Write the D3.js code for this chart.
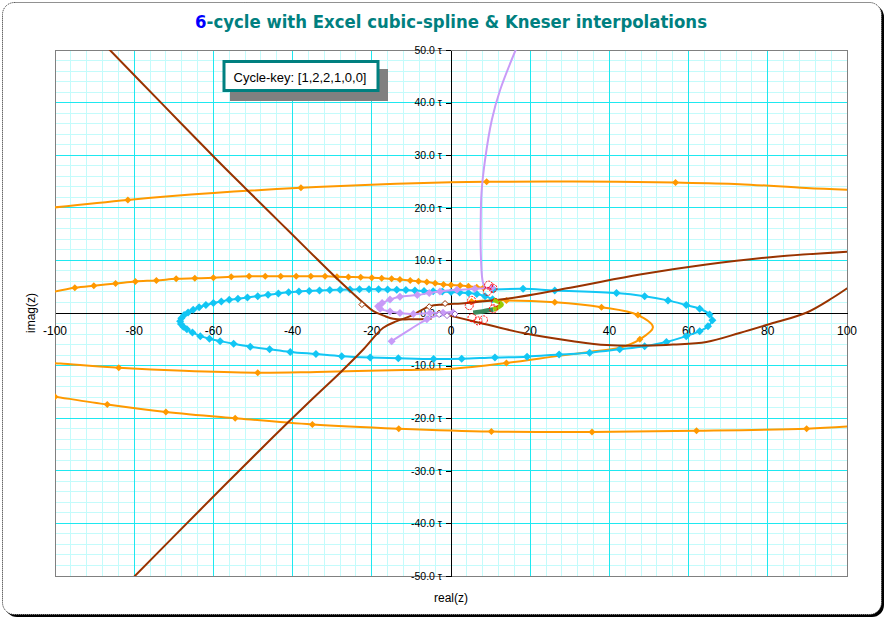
<!DOCTYPE html>
<html lang="en">
<head>
    <meta charset="UTF-8">
    <title>6-cycle with Excel cubic-spline & Kneser interpolations</title>
    <script src="https://d3js.org/d3.v7.min.js"></script>
    <style>
        body { margin: 0; background: #ffffff; }
        svg { display: block; }
        .tick-label { font-family: "Liberation Sans", Arial, sans-serif; fill: #000; }
    </style>
</head>
<body>
<div id="chart"></div>
<script>
    // ---- data (in chart units: real(z), imag(z)/τ) ----
    var xTicks = [-100, -80, -60, -40, -20, 0, 20, 40, 60, 80, 100];
    var yTicks = [-50, -40, -30, -20, -10, 0, 10, 20, 30, 40, 50];

    var orangeOuterTop = [[-101, 20.0], [-81.6, 21.5], [-60, 22.8], [-37.9, 23.8], [-17.1, 24.5], [0, 24.85],
        [9, 24.95], [30.8, 25.0], [56.7, 24.8], [72.9, 24.5], [89.7, 23.75], [101, 23.4]];
    var orangeOuterTopMarks = [[-81.6, 21.5], [-37.9, 23.8], [9, 24.95], [56.7, 24.8]];

    var orangeOuterBottom = [[-101, -15.8], [-100, -15.9], [-86.8, -17.4], [-72, -18.8], [-54.5, -20.0], [-35, -21.2],
        [-13.2, -22.0], [10.2, -22.55], [35.6, -22.6], [62, -22.4], [89.8, -22.0], [102, -21.5]];
    var orangeOuterBottomMarks = [[-100, -15.9], [-86.8, -17.4], [-72, -18.8], [-54.5, -20.0], [-35, -21.2],
        [-13.2, -22.0], [10.2, -22.55], [35.6, -22.6], [62, -22.4], [89.8, -22.0]];

    var orangeInnerTop = [[-101, 3.95], [-95, 4.8], [-90.2, 5.2], [-84.7, 5.6], [-79.7, 6.0], [-74.4, 6.2], [-69.4, 6.5],
        [-64.7, 6.6], [-60, 6.7], [-55.5, 6.9], [-51, 7.0], [-46.9, 7.0], [-43, 7.0], [-39.1, 7.0], [-35.4, 7.0],
        [-31.8, 7.0], [-28.8, 6.9], [-25.9, 6.85], [-22.8, 6.8], [-20, 6.7], [-17.5, 6.6], [-15, 6.5], [-12.9, 6.35],
        [-10.3, 6.2], [-8.2, 6.05], [-6.1, 5.9], [-4, 5.65], [-1.9, 5.4], [0, 5.3], [2.3, 5.25], [4.4, 5.1],
        [6.5, 4.9], [8.2, 4.8]];

    var orangeInnerLoop = [[5.2, 2.2], [14, 2.4], [26.2, 2.05], [38, 1.1], [47.2, -0.4], [51, -2.7], [47.7, -5.0],
        [42.6, -6.6], [35, -7.4], [26.7, -8.2], [14, -9.5], [0, -10.6], [-12, -10.85], [-33.9, -11.2],
        [-48.8, -11.35], [-67.5, -11.0], [-83.9, -10.4], [-98.6, -9.6], [-101, -9.5]];
    var orangeInnerLoopMarks = [[5.2, 2.2], [14, 2.4], [26.2, 2.05], [38, 1.1], [47.2, -0.4], [47.7, -5.0],
        [14, -9.5], [-48.8, -11.35], [-83.9, -10.4]];

    var cyanLoop = [[10.5, 2.6], [8.6, 3.2], [6.5, 3.6], [4.4, 3.8], [2.2, 3.9], [0, 4.0], [-2.2, 4.1], [-4.5, 4.15],
        [-6.8, 4.2], [-9.1, 4.3], [-11.4, 4.35], [-13.7, 4.4], [-16, 4.45], [-18.3, 4.5], [-20.7, 4.5], [-23.1, 4.5],
        [-25.5, 4.45], [-28, 4.42], [-30.6, 4.38], [-33.2, 4.3], [-35.8, 4.2], [-38.4, 4.1], [-41, 3.95],
        [-43.6, 3.7], [-46.2, 3.45], [-48.8, 3.2], [-51.4, 2.95], [-53.8, 2.7], [-56, 2.5], [-58, 2.2], [-60, 1.9],
        [-61.9, 1.5], [-63.6, 1.1], [-65.1, 0.6], [-66.4, 0.1], [-67.4, -0.4], [-68.1, -1.0], [-68.4, -1.55],
        [-68.2, -2.1], [-67.6, -2.6], [-66.7, -3.1], [-65.3, -3.7], [-63.3, -4.4], [-61, -4.9], [-58.3, -5.35],
        [-54.9, -5.85], [-50.7, -6.4], [-45.8, -6.9], [-40.6, -7.4], [-34.1, -7.8], [-27.6, -8.2], [-20.4, -8.45],
        [-13.3, -8.6], [-4.4, -8.75], [2.7, -8.7], [11.1, -8.45], [19.2, -8.3], [27.3, -7.9], [35, -7.55],
        [42.6, -6.9], [48.9, -6.3], [54.4, -5.5], [59.4, -4.4], [62.8, -3.45], [64.9, -2.5], [66, -1.4],
        [65.3, -0.3], [62.8, 0.8], [59.4, 1.5], [54.8, 2.4], [48.9, 3.2], [41.8, 3.8], [26.2, 4.3], [18.2, 4.6],
        [10.7, 4.45]];

    var brownUpper = [[-86.8, 50.5], [-73, 39.8], [-59.1, 29.1], [-51.5, 23.4], [-45.6, 19.0], [-40.6, 15.3],
        [-33.9, 10.3], [-27.2, 5.4], [-22.1, 1.9], [-19.6, 0.35], [-17, -0.5], [-14.6, -1.1], [-9.5, -1.2],
        [-4.9, -1.1]];
    var brownRising = [[-80.5, -50.5], [-63.3, -37.4], [-45.5, -24], [-35.1, -16.4], [-28, -11.35], [-22.1, -6.9],
        [-17.1, -2.8], [-13.7, -1.55], [-10.3, -0.6], [-5.3, 1.3], [-1.9, 1.6], [4, 1.9], [14, 2.7], [30.8, 4.9],
        [47.7, 7.3], [64.5, 9.2], [81.3, 10.65], [101, 11.7]];
    var brownLower = [[-3, 0], [5.6, -1.55], [18.2, -3.8], [30.8, -5.35], [39.3, -6.1], [49.4, -6.2], [56.1, -6.0],
        [64.5, -5.5], [72.9, -3.8], [81.3, -1.9], [89.7, 0.05], [96.4, 2.9], [101, 5.2]];
    var brownOpenMarks = [[-22.5, 1.6], [-5.5, 1.2], [-1.5, 1.8], [-3, 0]];

    var lavenderStem = [[16.6, 50.5], [12.4, 42.4], [10.3, 36.7], [8.6, 29.1], [7.7, 22.8], [7.5, 17], [7.5, 12.05],
        [8, 6.05], [8.6, 4.9], [10.3, 4.8]];
    var lavenderLoop = [[10.3, 4.8], [6, 4.6], [1.5, 4.4], [-2.8, 4.1], [-5.5, 3.8], [-8.5, 3.4], [-12.9, 3.1],
        [-15.4, 2.55], [-17.4, 1.9], [-18.4, 1.3], [-17.9, 0.8], [-15.4, 0.3], [-12.9, 0], [-9.5, -0.2],
        [-5.3, 0], [-2, 0.05], [0.5, 0.1]];
    var lavenderTail = [[-15, -5.35], [-10.3, -3.1], [-6.1, -1.2], [-1.9, -0.1], [0.6, 0.3]];
    var lavenderTailMarks = [[-15, -5.35], [-6.1, -1.2]];
    var lavenderOpenMarks = [[-3, -0.3], [-1, -0.5], [1, -0.2]];

    var greenDark = [[5.6, 0.05], [8, 0.3], [10.7, 0.65]];
    var greenLight = [[10.7, 0.65], [12.8, 1.6], [10.7, 2.55]];

    var redCycle = [[9.5, 5.3], [10.6, 4.7], [9.2, 4.1], [5.2, 2.4], [4.6, 1.4], [5.3, -0.9], [6.8, -1.5],
        [8.2, -1.3], [10.7, 0.8], [11.2, 2.0]];

    var cycleKey = "Cycle-key: [1,2,2,1,0,0]";

    // ---- layout ----
    var W = 886, H = 620;
    var plot = { left: 55, right: 847, top: 50, bottom: 576 };

    var svg = d3.select("#chart").append("svg")
        .attr("width", W)
        .attr("height", H);

    // outer frame with shadow
    svg.append("rect")
        .attr("x", 5).attr("y", 5)
        .attr("width", 879).attr("height", 612)
        .attr("rx", 12).attr("ry", 12)
        .attr("fill", "#000");
    svg.append("rect")
        .attr("x", 2.5).attr("y", 2.5)
        .attr("width", 879).attr("height", 612)
        .attr("rx", 12).attr("ry", 12)
        .attr("fill", "#fff")
        .attr("stroke", "#222")
        .attr("stroke-width", 1)
        .attr("stroke-dasharray", "1,1");

    var xScale = d3.scaleLinear().domain([-100, 100]).range([plot.left, plot.right]);
    var yScale = d3.scaleLinear().domain([-50, 50]).range([plot.bottom, plot.top]);

    // minor grid
    var xMinor = d3.range(-100, 101, 4);
    var yMinor = d3.range(-50, 51, 2);
    var grid = svg.append("g").attr("shape-rendering", "crispEdges");
    grid.selectAll(".vminor").data(xMinor).enter().append("line")
        .attr("x1", d => xScale(d)).attr("x2", d => xScale(d))
        .attr("y1", plot.top).attr("y2", plot.bottom)
        .attr("stroke", "#c4fbfb");
    grid.selectAll(".hminor").data(yMinor).enter().append("line")
        .attr("y1", d => yScale(d)).attr("y2", d => yScale(d))
        .attr("x1", plot.left).attr("x2", plot.right)
        .attr("stroke", "#c4fbfb");
    // major grid
    grid.selectAll(".vmajor").data(xTicks).enter().append("line")
        .attr("x1", d => xScale(d)).attr("x2", d => xScale(d))
        .attr("y1", plot.top).attr("y2", plot.bottom)
        .attr("stroke", "#1ee8f0");
    grid.selectAll(".hmajor").data(yTicks).enter().append("line")
        .attr("y1", d => yScale(d)).attr("y2", d => yScale(d))
        .attr("x1", plot.left).attr("x2", plot.right)
        .attr("stroke", "#1ee8f0");

    // plot border
    svg.append("rect")
        .attr("x", plot.left).attr("y", plot.top)
        .attr("width", plot.right - plot.left).attr("height", plot.bottom - plot.top)
        .attr("fill", "none").attr("stroke", "#808080")
        .attr("shape-rendering", "crispEdges");

    // axes through the origin
    svg.append("g")
        .attr("transform", "translate(0," + yScale(0) + ")")
        .attr("shape-rendering", "crispEdges")
        .call(d3.axisBottom(xScale).tickValues([]).tickSizeOuter(0))
        .select(".domain").attr("stroke", "#000");

    var yAxis = svg.append("g")
        .attr("transform", "translate(" + xScale(0) + ",0)")
        .attr("shape-rendering", "crispEdges")
        .call(d3.axisLeft(yScale).tickValues(yTicks).tickSize(5).tickSizeOuter(0)
            .tickFormat(d => d.toFixed(1) + " τ"));
    yAxis.select(".domain").attr("stroke", "#000");
    yAxis.selectAll(".tick line").attr("stroke", "#000");
    yAxis.selectAll(".tick text")
        .attr("class", "tick-label")
        .attr("x", -9)
        .style("font-size", "10.5px")
        .attr("fill", "#000");

    // x tick labels
    svg.append("g").selectAll("text").data(xTicks).enter().append("text")
        .attr("class", "tick-label")
        .attr("x", d => xScale(d))
        .attr("y", yScale(0) + 22)
        .attr("text-anchor", "middle")
        .style("font-size", "12px")
        .text(d => String(d));

    // series
    svg.append("clipPath").attr("id", "plotclip").append("rect")
        .attr("x", plot.left).attr("y", plot.top)
        .attr("width", plot.right - plot.left).attr("height", plot.bottom - plot.top);
    var layer = svg.append("g").attr("clip-path", "url(#plotclip)");

    var line = d3.line()
        .x(d => xScale(d[0]))
        .y(d => yScale(d[1]))
        .curve(d3.curveCatmullRom.alpha(0.5));

    function drawLine(pts, color, width) {
        layer.append("path")
            .datum(pts)
            .attr("d", line)
            .attr("fill", "none")
            .attr("stroke", color)
            .attr("stroke-width", width)
            .attr("stroke-linejoin", "round");
    }

    function diamond(r) {
        return "M0," + (-r) + "L" + r + ",0L0," + r + "L" + (-r) + ",0Z";
    }

    function drawMarks(pts, fill, stroke, r) {
        layer.append("g").selectAll("path").data(pts).enter().append("path")
            .attr("transform", d => "translate(" + xScale(d[0]) + "," + yScale(d[1]) + ")")
            .attr("d", diamond(r))
            .attr("fill", fill)
            .attr("stroke", stroke)
            .attr("stroke-width", 1);
    }

    var orange = "#ff9900", cyan = "#12c6f4", brown = "#993300", lavender = "#c89bf7";

    drawLine(orangeOuterTop, orange, 2);
    drawMarks(orangeOuterTopMarks, orange, "none", 3.5);
    drawLine(orangeOuterBottom, orange, 2);
    drawMarks(orangeOuterBottomMarks, orange, "none", 3.5);
    drawLine(orangeInnerLoop, orange, 2);
    drawMarks(orangeInnerLoopMarks, orange, "none", 3.5);
    drawLine(orangeInnerTop, orange, 2);
    drawMarks(orangeInnerTop, orange, "none", 3.5);

    drawLine(cyanLoop, cyan, 2);
    drawMarks(cyanLoop, cyan, "none", 4);

    drawLine(brownUpper, brown, 2);
    drawLine(brownRising, brown, 2);
    drawLine(brownLower, brown, 2);
    drawMarks(brownOpenMarks, "#fff", brown, 3);

    drawLine(lavenderStem, lavender, 2);
    drawLine(lavenderLoop, lavender, 2);
    drawMarks(lavenderLoop, lavender, "none", 4);
    drawLine(lavenderTail, lavender, 2);
    drawMarks(lavenderTailMarks, lavender, "none", 4);
    drawMarks(lavenderOpenMarks, "#fff", "#9966cc", 3);

    drawLine(greenDark, "#3a8a5e", 4.5);
    drawLine(greenLight, "#99cc00", 4.5);

    layer.append("g").selectAll("circle").data(redCycle).enter().append("circle")
        .attr("cx", d => xScale(d[0]))
        .attr("cy", d => yScale(d[1]))
        .attr("r", 4)
        .attr("fill", "none")
        .attr("stroke", "#ff0000")
        .attr("stroke-width", 1)
        .attr("stroke-dasharray", "2,1");

    // legend box
    svg.append("rect")
        .attr("x", 230).attr("y", 69)
        .attr("width", 158).attr("height", 32)
        .attr("fill", "#808080");
    svg.append("rect")
        .attr("x", 224).attr("y", 61.5)
        .attr("width", 154).attr("height", 29)
        .attr("fill", "#fff")
        .attr("stroke", "#008080")
        .attr("stroke-width", 3);
    svg.append("text")
        .attr("x", 300).attr("y", 81.5)
        .attr("text-anchor", "middle")
        .style("font-family", "'Liberation Sans', Arial, sans-serif")
        .style("font-size", "13px")
        .attr("fill", "#000")
        .text(cycleKey);

    // title
    var title = svg.append("text")
        .attr("x", 451).attr("y", 28)
        .attr("text-anchor", "middle")
        .attr("textLength", 512)
        .attr("lengthAdjust", "spacingAndGlyphs")
        .style("font-family", "'DejaVu Sans', sans-serif")
        .style("font-weight", "bold")
        .style("font-size", "17px");
    title.append("tspan").attr("fill", "#0000ff").text("6");
    title.append("tspan").attr("fill", "#008080").text("-cycle with Excel cubic-spline & Kneser interpolations");

    // axis titles
    svg.append("text")
        .attr("transform", "translate(35," + yScale(0) + ") rotate(-90)")
        .attr("text-anchor", "middle")
        .style("font-family", "'Liberation Sans', Arial, sans-serif")
        .style("font-size", "12px")
        .attr("fill", "#000")
        .text("imag(z)");
    svg.append("text")
        .attr("x", 451).attr("y", 602)
        .attr("text-anchor", "middle")
        .style("font-family", "'Liberation Sans', Arial, sans-serif")
        .style("font-size", "12px")
        .attr("fill", "#000")
        .text("real(z)");
</script>
</body>
</html>
